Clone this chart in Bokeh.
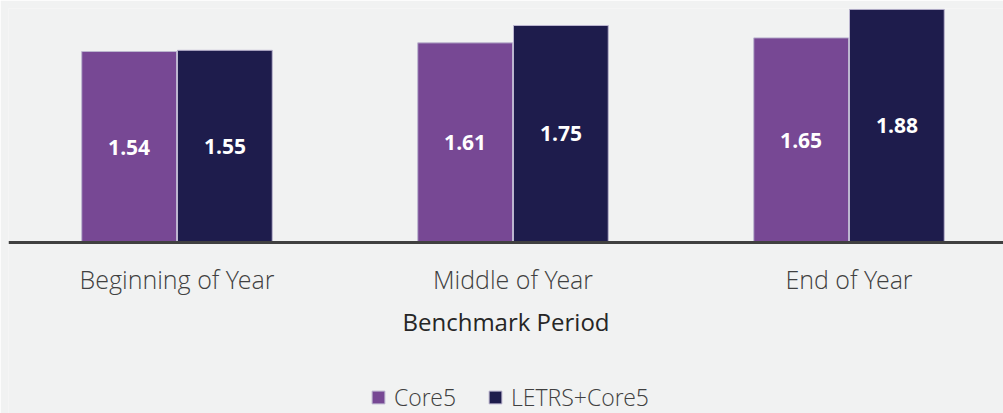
from bokeh.plotting import figure
from bokeh.models import ColumnDataSource, FixedTicker, Legend, LegendItem, Range1d
from bokeh.core.properties import value
from bokeh.embed import file_html
from bokeh.resources import INLINE

categories = ["Beginning of Year", "Middle of Year", "End of Year"]
series_names = ["Core5", "LETRS+Core5"]
core5 = [1.54, 1.61, 1.65]
letrs_core5 = [1.55, 1.75, 1.88]
colors = ["#774894", "#1e1c4c"]

xs = list(range(len(categories)))
bw = 0.282
off = 0.1425

p = figure(frame_width=995, frame_height=405, output_backend="svg", toolbar_location=None,
           x_range=Range1d(-0.5015, 2.4598), y_range=Range1d(-1.379, 1.887),
           y_axis_location=None, min_border_left=8, min_border_right=0,
           min_border_top=8, min_border_bottom=0,
           background_fill_color="#f1f2f2", border_fill_color="#f1f2f2")
p.outline_line_color = None
p.xgrid.visible = False
p.ygrid.visible = False

renderers = []
for vals, col, sh in [(core5, colors[0], -off), (letrs_core5, colors[1], off)]:
    src = ColumnDataSource(dict(x=[x + sh for x in xs], top=vals,
                                mid=[v / 2 for v in vals],
                                lab=[f"{v:.2f}" for v in vals]))
    r = p.vbar(x="x", top="top", bottom=0, width=bw, source=src, fill_color=col,
               line_color="#bcb6d0", line_width=1)
    renderers.append(r)
    p.text(x="x", y="mid", text="lab", source=src, text_color="white",
           text_font=value("Open Sans"), text_font_style="bold",
           text_font_size="21px", text_align="center", text_baseline="middle")

ax = p.xaxis[0]
ax.fixed_location = 0
ax.ticker = FixedTicker(ticks=xs)
ax.major_label_overrides = {i: c for i, c in enumerate(categories)}
ax.axis_line_color = "#404040"
ax.axis_line_width = 3
ax.major_tick_line_color = None
ax.minor_tick_line_color = None
ax.major_tick_out = 0
ax.major_tick_in = 0
ax.major_label_standoff = 20
ax.major_label_text_font = "Open Sans Light, Open Sans"
ax.major_label_text_font_size = "25px"
ax.major_label_text_color = "#404040"
ax.axis_label = "Benchmark Period"
ax.axis_label_text_font = "Open Sans"
ax.axis_label_text_font_style = "normal"
ax.axis_label_text_font_size = "24px"
ax.axis_label_text_color = "#262626"
ax.axis_label_standoff = 5

legend = Legend(items=[LegendItem(label=series_names[0], renderers=[renderers[0]]),
                       LegendItem(label=series_names[1], renderers=[renderers[1]])],
                orientation="horizontal", location=(362, 0),
                glyph_width=16, glyph_height=16,
                label_text_font="Open Sans Light, Open Sans",
                label_text_font_size="23px", label_text_color="#404040",
                background_fill_alpha=0, border_line_color=None,
                spacing=31, label_standoff=8, margin=0, padding=0)
p.add_layout(legend, "center")

open("out.html", "w").write(file_html(p, INLINE))
